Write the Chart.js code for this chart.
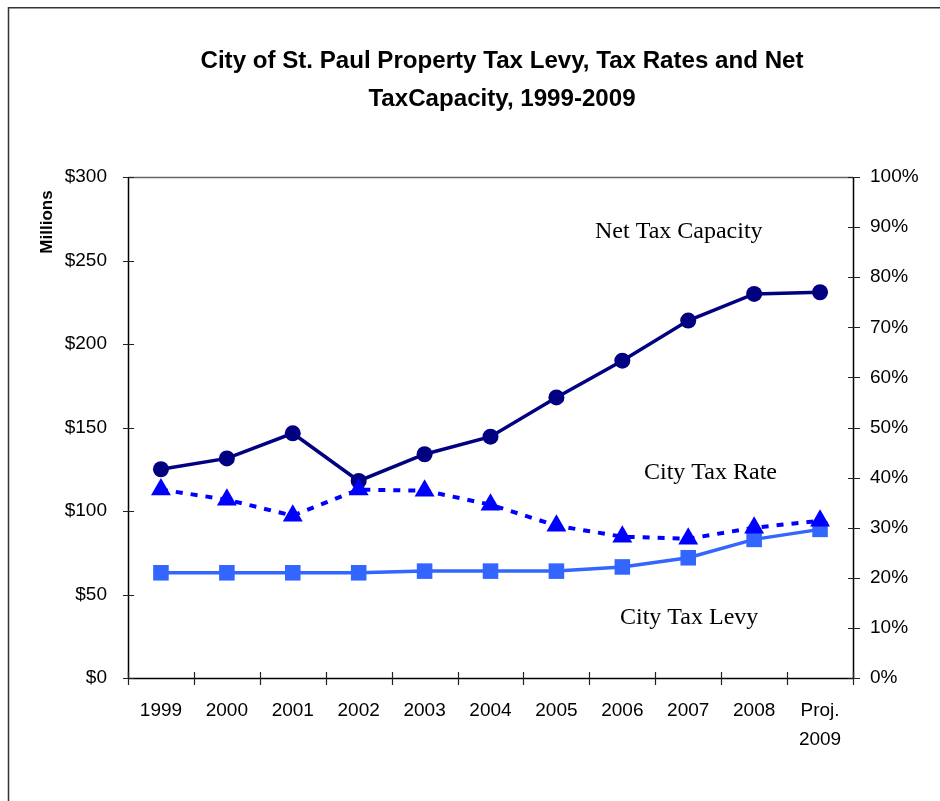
<!DOCTYPE html>
<html>
<head>
<meta charset="utf-8">
<script src="https://cdn.jsdelivr.net/npm/chart.js@4.4.0/dist/chart.umd.min.js"></script>
<style>
html,body{margin:0;padding:0;background:#fff;}
#c{display:block;}
</style>
</head>
<body>
<canvas id="c" width="940" height="801"></canvas>
<script>
// ---- data ----
const categories = ['1999','2000','2001','2002','2003','2004','2005','2006','2007','2008',['Proj.','2009']];
const netTaxCapacity = [125, 131.5, 146.5, 118, 134, 144.5, 168, 190, 214, 230, 231];   // $ millions
const cityTaxRate = [37.6, 35.6, 32.4, 37.6, 37.4, 34.6, 30.4, 28.2, 27.8, 30.0, 31.4];  // percent
const cityTaxLevy = [63, 63, 63, 63, 64, 64, 64, 66.5, 72, 83, 89];                     // $ millions
const leftTicks = [0, 50, 100, 150, 200, 250, 300];
const rightTicks = [0, 10, 20, 30, 40, 50, 60, 70, 80, 90, 100];
const titleLines = ['City of St. Paul Property Tax Levy, Tax Rates and Net', 'TaxCapacity, 1999-2009'];
const seriesLabels = ['Net Tax Capacity', 'City Tax Rate', 'City Tax Levy'];

const SANS = '"Liberation Sans", Arial, sans-serif';
const SERIF = '"Liberation Serif", "Times New Roman", serif';

const decor = {
  id: 'decor',
  beforeDraw(chart) {
    const ctx = chart.ctx;
    ctx.save();
    // outer border (top & left visible)
    ctx.strokeStyle = '#333';
    ctx.lineWidth = 1.5;
    ctx.beginPath();
    ctx.moveTo(8.5, 820); ctx.lineTo(8.5, 7.75); ctx.lineTo(960, 7.75);
    ctx.stroke();
    // title
    ctx.fillStyle = '#000';
    ctx.font = 'bold 24px ' + SANS;
    ctx.textBaseline = 'alphabetic';
    const w1 = ctx.measureText(titleLines[0]).width;
    const sx = 603 / w1;
    const baselines = [68, 106];
    titleLines.forEach((t, i) => {
      const w = ctx.measureText(t).width * sx;
      ctx.save();
      ctx.translate(502 - w / 2, baselines[i]);
      ctx.scale(sx, 1);
      ctx.textAlign = 'left';
      ctx.fillText(t, 0, 0);
      ctx.restore();
    });
    // Millions
    ctx.save();
    ctx.translate(52, 222);
    ctx.rotate(-Math.PI / 2);
    ctx.font = 'bold 17px ' + SANS;
    ctx.textAlign = 'center';
    ctx.textBaseline = 'alphabetic';
    ctx.fillText('Millions', 0, 0);
    ctx.restore();
    ctx.restore();
  },
  beforeDatasetsDraw(chart) {
    const ctx = chart.ctx;
    const a = chart.chartArea;
    const x = chart.scales.x, y = chart.scales.y, y1 = chart.scales.y1;
    ctx.save();
    // top frame line
    ctx.strokeStyle = '#666';
    ctx.lineWidth = 1.5;
    ctx.beginPath();
    ctx.moveTo(a.left, a.top + 0.5); ctx.lineTo(a.right, a.top + 0.5);
    ctx.stroke();
    // axes
    ctx.strokeStyle = '#000';
    ctx.lineWidth = 1.5;
    ctx.beginPath();
    ctx.moveTo(a.left + 0.5, a.top); ctx.lineTo(a.left + 0.5, a.bottom);
    ctx.moveTo(a.left, a.bottom + 0.5); ctx.lineTo(a.right, a.bottom + 0.5);
    ctx.moveTo(a.right + 0.5, a.top); ctx.lineTo(a.right + 0.5, a.bottom);
    ctx.stroke();
    // tick marks
    ctx.strokeStyle = '#222';
    ctx.lineWidth = 1.2;
    ctx.beginPath();
    leftTicks.forEach(v => {
      const py = Math.round(y.getPixelForValue(v)) + 0.5;
      ctx.moveTo(a.left - 5, py); ctx.lineTo(a.left + 6, py);
    });
    rightTicks.forEach(v => {
      const py = Math.round(y1.getPixelForValue(v)) + 0.5;
      ctx.moveTo(a.right - 5, py); ctx.lineTo(a.right + 7, py);
    });
    const step = x.getPixelForValue(1) - x.getPixelForValue(0);
    for (let i = 0; i <= categories.length; i++) {
      const px = Math.round(x.getPixelForValue(0) - step / 2 + i * step) + 0.5;
      ctx.moveTo(px, a.bottom - 6); ctx.lineTo(px, a.bottom + 7);
    }
    ctx.stroke();
    ctx.restore();
  },
  afterDatasetsDraw(chart) {
    const ctx = chart.ctx;
    ctx.save();
    ctx.fillStyle = '#000';
    ctx.font = '24px ' + SERIF;
    ctx.textAlign = 'left';
    ctx.textBaseline = 'alphabetic';
    ctx.fillText(seriesLabels[0], 595, 238);
    ctx.fillText(seriesLabels[1], 644, 479);
    ctx.fillText(seriesLabels[2], 620, 624);
    ctx.restore();
  }
};

new Chart(document.getElementById('c'), {
  type: 'line',
  data: {
    labels: categories,
    datasets: [
      {
        label: seriesLabels[1],
        data: cityTaxRate,
        yAxisID: 'y1',
        borderColor: '#0000FF',
        backgroundColor: '#0000FF',
        borderWidth: 4,
        borderDash: [7, 8],
        pointStyle: 'triangle',
        pointRadius: 11.5,
        pointBorderWidth: 0,
        order: 0
      },
      {
        label: seriesLabels[0],
        data: netTaxCapacity,
        yAxisID: 'y',
        borderColor: '#000080',
        backgroundColor: '#000080',
        borderWidth: 3.5,
        pointStyle: 'circle',
        pointRadius: 8,
        pointBorderWidth: 0,
        order: 1
      },
      {
        label: seriesLabels[2],
        data: cityTaxLevy,
        yAxisID: 'y',
        borderColor: '#3366FF',
        backgroundColor: '#3366FF',
        borderWidth: 3.5,
        pointStyle: 'rect',
        pointRadius: 11,
        pointBorderWidth: 0,
        order: 2
      }
    ]
  },
  options: {
    responsive: false,
    devicePixelRatio: 1,
    animation: false,
    layout: { padding: { top: 177, left: 0, right: 0, bottom: 0 } },
    plugins: { legend: { display: false }, title: { display: false }, tooltip: { enabled: false } },
    elements: { line: { tension: 0 } },
    scales: {
      x: {
        type: 'category',
        offset: true,
        grid: { display: false, drawTicks: false },
        border: { display: false },
        ticks: {
          color: '#000',
          font: { family: SANS, size: 19, lineHeight: 1.5 },
          padding: 19,
          maxRotation: 0,
          autoSkip: false
        },
        afterFit(s) { s.height = 123; }
      },
      y: {
        position: 'left',
        min: 0, max: 300,
        afterBuildTicks(s) { s.ticks = leftTicks.map(v => ({ value: v })); },
        grid: { display: false, drawTicks: false },
        border: { display: false },
        ticks: {
          color: '#000',
          font: { family: SANS, size: 19 },
          padding: 21,
          callback: v => '$' + v
        },
        afterFit(s) { s.width = 128; }
      },
      y1: {
        position: 'right',
        min: 0, max: 100,
        afterBuildTicks(s) { s.ticks = rightTicks.map(v => ({ value: v })); },
        grid: { display: false, drawTicks: false },
        border: { display: false },
        ticks: {
          color: '#000',
          font: { family: SANS, size: 19 },
          padding: 17,
          callback: v => v + '%'
        },
        afterFit(s) { s.width = 87; }
      }
    }
  },
  plugins: [decor]
});
</script>
</body>
</html>
